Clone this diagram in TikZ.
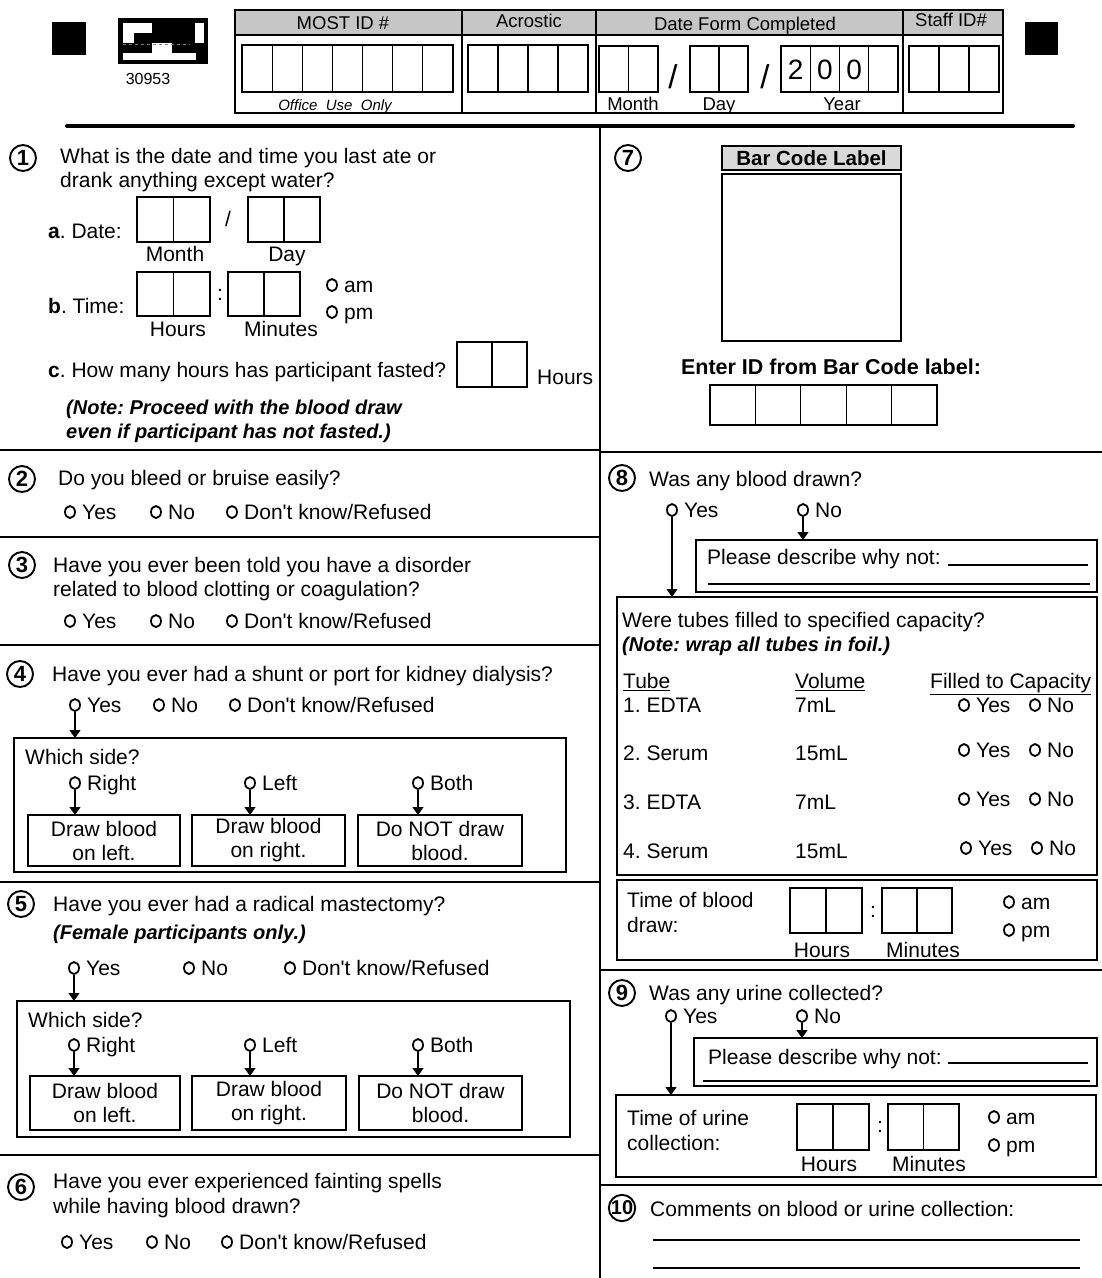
\documentclass[tikz,border=0pt]{standalone}
\usepackage{fontspec}
\setmainfont{Liberation Sans}[Ligatures=TeXOff]
\usetikzlibrary{calc,arrows.meta,shapes.geometric}
\frenchspacing
\newcommand\fsz[1]{\fontsize{#1}{#1}\selectfont}
\newcommand\dk{Don't know/Refused}
\tikzset{
 t/.style={anchor=west, inner sep=0pt, text height=15pt, text depth=0pt, font=\fsz{21}},
 tc/.style={t, anchor=center},
 hd/.style={inner sep=0pt, text height=13pt, text depth=0pt, font=\fsz{18.5}},
 box/.style={draw, line width=1.5pt, inner sep=0pt, outer sep=0pt},
 cellline/.style={line width=1.2pt},
 radio/.style={draw, ellipse, line width=1.8pt, minimum width=10pt, minimum height=12pt, inner sep=0pt},
 arr/.style={line width=1.2pt, -{Triangle[width=11pt,length=8pt]}},
 qnum/.style={draw, circle, line width=1.9pt, minimum size=26pt, inner sep=0pt, font=\bfseries\fsz{22}},
 rule/.style={line width=1.8pt},
 blank/.style={line width=1.3pt},
}
% \rbox[opts]{name}{x1}{y1}{x2}{y2}{text}
\newcommand\rbox[7][]{\node[box,#1,minimum width={(#5-#3)*1pt},minimum height={(#6-#4)*1pt}] (#2) at ({(#3+#5)/2},{(#4+#6)/2}) {#7};}
% \cells{name}{x1}{y1}{x2}{y2}{n}
\newcommand\cells[6]{\rbox{#1}{#2}{#3}{#4}{#5}{}%
 \pgfmathtruncatemacro\ncm{#6-1}%
 \foreach \k in {1,...,\ncm}{\draw[cellline] ($(#1.north west)!{\k/#6}!(#1.north east)$) -- ($(#1.south west)!{\k/#6}!(#1.south east)$);}}
% \opt{name}{x}{y}{text}
\newcommand\opt[4]{\node[radio] (#1) at (#2,#3) {}; \node[t] (#1t) at (#2+12,#3) {#4};}
\begin{document}
\begin{tikzpicture}[x=1pt,y=-1pt]
\useasboundingbox (0,0) rectangle (1102,1278);
% ---------------- header ----------------
\fill (52,22) rectangle (86,55);
\fill (1025,22) rectangle (1058,55);
\node[draw, line width=1.5pt, fill=black, minimum width=88pt, minimum height=44pt, inner sep=0pt] (bc) at (163,41) {};
\fill[white] (123,23) rectangle (152,33);
\fill[white] (123,33) rectangle (134,43);
\fill[white] (152,43) rectangle (172,53);
\fill[white] (195,23) rectangle (204,43);
\fill[white] (123,53) rectangle (196,60);
\draw[gray, line width=0.8pt, dashed] (123,44) -- (190,44);
\node[inner sep=0pt, font=\fsz{16}] (bcnum) at (148,79) {30953};
\fill[gray!45] (235,10) rectangle (1003,35);
\draw[line width=1.3pt] (235,10) rectangle (1003,113);
\draw[line width=1.1pt] (235,35) -- (1003,35);
\foreach \xx in {462,596,903} \draw[line width=1.1pt] (\xx,10) -- (\xx,113);
\node[hd] (hmost) at (343,23) {MOST ID \#};
\node[hd] (hacr) at (529,21) {Acrostic};
\node[hd] (hdate) at (745,24) {Date Form Completed};
\node[hd] (hstaff) at (951,20) {Staff ID\#};
\cells{most}{242}{45}{453}{92}{7}
\node[hd, font=\itshape\fsz{15}] (office) at (335,104) {Office\ \ Use\ \ Only};
\cells{acr}{468}{45}{588}{92}{4}
\cells{dfm}{599}{46}{658}{92}{2}
\node[hd, font=\fsz{33}, text height=23pt] (sl1) at (673,77) {/};
\cells{dfd}{690}{46}{748}{92}{2}
\node[hd, font=\fsz{33}, text height=23pt] (sl2) at (765,77) {/};
\cells{dfy}{781}{46}{898}{92}{4}
\node[inner sep=0pt, font=\fsz{28}] (y1) at (795.6,70) {2};
\node[inner sep=0pt, font=\fsz{28}] (y2) at (824.9,70) {0};
\node[inner sep=0pt, font=\fsz{28}] (y3) at (854.1,70) {0};
\node[hd] (lmon) at (633,104) {Month};
\node[hd] (lday) at (719,104) {Day};
\node[hd] (lyear) at (842,104) {Year};
\cells{staff}{909}{46}{999}{92}{3}
\draw[line width=4pt, line cap=round] (67,126) -- (1073,126);
% ---------------- frame ----------------
\draw[rule] (600,128) -- (600,1278);
\foreach \yy in {450,537,645,882,1155} \draw[rule] (0,\yy) -- (600,\yy);
\foreach \yy in {452,970,1185} \draw[rule] (600,\yy) -- (1102,\yy);
% ---------------- Q1 ----------------
\node[qnum] (n1) at (23,158) {1};
\node[t] (q1a) at (60,156) {What is the date and time you last ate or};
\node[t] (q1b) at (60,180) {drank anything except water?};
\node[t] (q1date) at (48,231) {\textbf{a}. Date:};
\cells{q1m}{137}{197}{210}{242}{2}
\node[tc] (q1sl) at (228,219) {/};
\cells{q1d}{248}{197}{320}{242}{2}
\node[tc] (q1mon) at (175,254) {Month};
\node[tc] (q1day) at (287,254) {Day};
\node[t] (q1time) at (48,306) {\textbf{b}. Time:};
\cells{q1h}{137}{272}{210}{316}{2}
\node[tc] (q1col) at (220,293) {:};
\cells{q1n}{228}{272}{300}{316}{2}
\node[tc] (q1hrs) at (178,329) {Hours};
\node[tc] (q1min) at (281,329) {Minutes};
\opt{q1am}{332}{285}{am}
\opt{q1pm}{332}{312}{pm}
\node[t] (q1c) at (48,370) {\textbf{c}. How many hours has participant fasted?};
\cells{q1f}{457}{342}{527}{387}{2}
\node[t] (q1fh) at (537,377) {Hours};
\node[t, font=\bfseries\itshape\fsz{20}] (q1n1) at (66,407) {(Note: Proceed with the blood draw};
\node[t, font=\bfseries\itshape\fsz{20}] (q1n2) at (66,431) {even if participant has not fasted.)};
% ---------------- Q2 ----------------
\node[qnum] (n2) at (22,479) {2};
\node[t] (q2) at (58,478) {Do you bleed or bruise easily?};
\opt{q2y}{70}{512}{Yes}
\opt{q2n}{156}{512}{No}
\opt{q2d}{232}{512}{\dk}
% ---------------- Q3 ----------------
\node[qnum] (n3) at (22,565) {3};
\node[t] (q3a) at (53,565) {Have you ever been told you have a disorder};
\node[t] (q3b) at (53,589) {related to blood clotting or coagulation?};
\opt{q3y}{70}{621}{Yes}
\opt{q3n}{156}{621}{No}
\opt{q3d}{232}{621}{\dk}
% ---------------- Q4 ----------------
\node[qnum] (n4) at (20,674) {4};
\node[t] (q4) at (52,674) {Have you ever had a shunt or port for kidney dialysis?};
\opt{q4y}{75}{705}{Yes}
\opt{q4n}{159}{705}{No}
\opt{q4d}{235}{705}{\dk}
\rbox{q4box}{14}{738}{566}{872}{}
\node[t] (q4w) at (25,757) {Which side?};
\opt{q4r}{75}{783}{Right}
\opt{q4l}{250}{783}{Left}
\opt{q4b}{418}{783}{Both}
\rbox[align=center, font=\fsz{21}]{q4bl}{28}{815}{180}{866}{Draw blood\\[3pt]on left.}
\rbox[align=center, font=\fsz{21}]{q4br}{192}{815}{345}{866}{Draw blood\\[3pt]on right.}
\rbox[align=center, font=\fsz{21}]{q4bn}{358}{815}{522}{866}{Do NOT draw\\[3pt]blood.}
\draw[arr] (q4y.south) -- (q4y.south |- q4box.north);
\draw[arr] (q4r.south) -- (q4r.south |- q4bl.north);
\draw[arr] (q4l.south) -- (q4l.south |- q4br.north);
\draw[arr] (q4b.south) -- (q4b.south |- q4bn.north);
% ---------------- Q5 ----------------
\node[qnum] (n5) at (21,904) {5};
\node[t] (q5a) at (53,904) {Have you ever had a radical mastectomy?};
\node[t, font=\bfseries\itshape\fsz{20}] (q5b) at (53,932) {(Female participants only.)};
\opt{q5y}{74}{968}{Yes}
\opt{q5n}{189}{968}{No}
\opt{q5d}{290}{968}{\dk}
\rbox{q5box}{17}{1001}{570}{1137}{}
\node[t] (q5w) at (28,1020) {Which side?};
\opt{q5r}{74}{1045}{Right}
\opt{q5l}{250}{1045}{Left}
\opt{q5b}{418}{1045}{Both}
\rbox[align=center, font=\fsz{21}]{q5bl}{30}{1076}{180}{1130}{Draw blood\\[3pt]on left.}
\rbox[align=center, font=\fsz{21}]{q5br}{192}{1076}{346}{1130}{Draw blood\\[3pt]on right.}
\rbox[align=center, font=\fsz{21}]{q5bn}{359}{1076}{522}{1130}{Do NOT draw\\[3pt]blood.}
\draw[arr] (q5y.south) -- (q5y.south |- q5box.north);
\draw[arr] (q5r.south) -- (q5r.south |- q5bl.north);
\draw[arr] (q5l.south) -- (q5l.south |- q5br.north);
\draw[arr] (q5b.south) -- (q5b.south |- q5bn.north);
% ---------------- Q6 ----------------
\node[qnum] (n6) at (21,1187) {6};
\node[t] (q6a) at (53,1181) {Have you ever experienced fainting spells};
\node[t] (q6b) at (53,1206) {while having blood drawn?};
\opt{q6y}{67}{1242}{Yes}
\opt{q6n}{152}{1242}{No}
\opt{q6d}{227}{1242}{\dk}
% ---------------- Q7 ----------------
\node[qnum] (n7) at (628,158) {7};
\rbox[fill=gray!30, font=\bfseries\fsz{20.5}]{bclab}{722}{146}{901}{170}{Bar Code Label}
\rbox{bcsq}{722}{174}{901}{341}{}
\node[tc, font=\bfseries\fsz{21.5}, text height=15.5pt] (q7e) at (831,367) {Enter ID from Bar Code label:};
\cells{q7id}{710}{385}{937}{425}{5}
% ---------------- Q8 ----------------
\node[qnum] (n8) at (622,478) {8};
\node[t] (q8) at (649,479) {Was any blood drawn?};
\opt{q8y}{672}{510}{Yes}
\opt{q8n}{803}{510}{No}
\rbox{q8desc}{696}{540}{1097}{592}{}
\node[t] (q8dt) at (707,557) {Please describe why not:};
\draw[blank] (948,565) -- (1088,565);
\draw[blank] (708,584) -- (1090,584);
\rbox{q8tubes}{617}{597}{1097}{875}{}
\node[t] (q8w) at (622,620) {Were tubes filled to specified capacity?};
\node[t, font=\bfseries\itshape\fsz{20}] (q8note) at (622,644) {(Note: wrap all tubes in foil.)};
\node[t] (htube) at (623,681) {\underline{Tube}};
\node[t] (hvol) at (795,681) {\underline{Volume}};
\node[t] (hfill) at (930,681) {\underline{Filled to Capacity}};
\node[t] (r1t) at (623,705) {1. EDTA};
\node[t] (r1v) at (795,705) {7mL};
\node[t] (r2t) at (623,753) {2. Serum};
\node[t] (r2v) at (795,753) {15mL};
\node[t] (r3t) at (623,802) {3. EDTA};
\node[t] (r3v) at (795,802) {7mL};
\node[t] (r4t) at (623,851) {4. Serum};
\node[t] (r4v) at (795,851) {15mL};
\opt{r1y}{964}{705}{Yes}
\opt{r1n}{1035}{705}{No}
\opt{r2y}{964}{750}{Yes}
\opt{r2n}{1035}{750}{No}
\opt{r3y}{964}{799}{Yes}
\opt{r3n}{1035}{799}{No}
\opt{r4y}{966}{848}{Yes}
\opt{r4n}{1037}{848}{No}
\rbox{q8time}{617}{880}{1097}{960}{}
\node[t] (q8ta) at (627,900) {Time of blood};
\node[t] (q8tb) at (627,925) {draw:};
\cells{q8h}{790}{888}{862}{933}{2}
\node[tc] (q8col) at (873,910) {:};
\cells{q8m}{882}{888}{952}{933}{2}
\node[tc] (q8hrs) at (822,950) {Hours};
\node[tc] (q8min) at (923,950) {Minutes};
\opt{q8am}{1009}{902}{am}
\opt{q8pm}{1009}{930}{pm}
\draw[arr] (q8y.south) -- (q8y.south |- q8tubes.north);
\draw[arr] (q8n.south) -- (q8n.south |- q8desc.north);
% ---------------- Q9 ----------------
\node[qnum] (n9) at (622,993) {9};
\node[t] (q9) at (649,993) {Was any urine collected?};
\opt{q9y}{671}{1016}{Yes}
\opt{q9n}{802}{1016}{No}
\rbox{q9desc}{694}{1038}{1097}{1086}{}
\node[t] (q9dt) at (708,1057) {Please describe why not:};
\draw[blank] (948,1063) -- (1088,1063);
\draw[blank] (703,1081) -- (1090,1081);
\rbox{q9time}{616}{1095}{1096}{1177}{}
\node[t] (q9ta) at (627,1118) {Time of urine};
\node[t] (q9tb) at (627,1143) {collection:};
\cells{q9h}{797}{1104}{869}{1150}{2}
\node[tc] (q9col) at (880,1125) {:};
\cells{q9m}{888}{1104}{959}{1150}{2}
\node[tc] (q9hrs) at (829,1164) {Hours};
\node[tc] (q9min) at (929,1164) {Minutes};
\opt{q9am}{994}{1117}{am}
\opt{q9pm}{994}{1145}{pm}
\draw[arr] (q9y.south) -- (q9y.south |- q9time.north);
\draw[arr] (q9n.south) -- (q9n.south |- q9desc.north);
% ---------------- Q10 ----------------
\node[qnum, font=\bfseries\fsz{20}] (n10) at (622,1208) {10};
\node[t] (q10) at (650,1209) {Comments on blood or urine collection:};
\draw[blank] (653,1240) -- (1080,1240);
\draw[blank] (653,1268) -- (1080,1268);
\end{tikzpicture}
\end{document}
